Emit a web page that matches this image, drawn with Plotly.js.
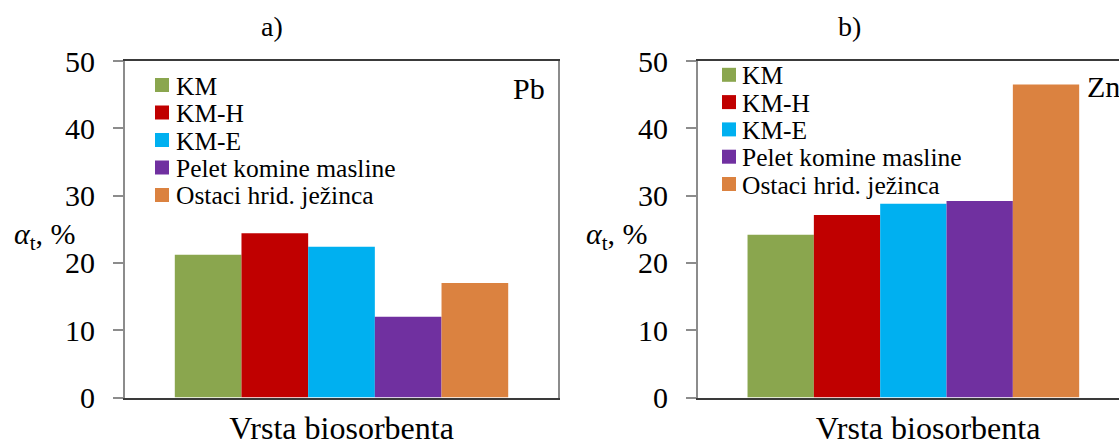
<!DOCTYPE html>
<html>
<head>
<meta charset="utf-8">
<script src="https://cdn.plot.ly/plotly-3.0.1.min.js"></script>
<style>
  html, body { margin: 0; padding: 0; background: #fff; overflow: hidden; }
  #chart { width: 1160px; height: 446px; }
</style>
</head>
<body>
<div id="chart"></div>
<script>
// ---- data ----
const seriesNames = ['KM', 'KM-H', 'KM-E', 'Pelet komine masline', 'Ostaci hrid. ježinca'];
const pbValues = [21.2, 24.4, 22.4, 12.0, 17.0];
const znValues = [24.2, 27.1, 28.8, 29.2, 46.5];
const category = ['Vrsta biosorbenta'];
const yTickValues = [0, 10, 20, 30, 40, 50];
const panelLabels = ['a)', 'b)'];
const metalLabels = ['Pb', 'Zn'];
const xAxisTitle = 'Vrsta biosorbenta';
const yAxisTitle = '<i>α</i><sub>t</sub>, %';

// ---- styles ----
const colors = ['#8AA64E', '#C00000', '#00B0F0', '#7030A0', '#DB8240'];
const W = 1160, H = 446;
const FONT = 'Liberation Serif, Times New Roman, serif';
const px = x => x / W;
const py = y => 1 - y / H;

const traces = [];
seriesNames.forEach((name, i) => {
  traces.push({
    type: 'bar', name: name, x: category, y: [pbValues[i]],
    marker: { color: colors[i], line: { width: 0 } },
    xaxis: 'x', yaxis: 'y', showlegend: false, hoverinfo: 'name+y'
  });
  traces.push({
    type: 'bar', name: name, x: category, y: [znValues[i]],
    marker: { color: colors[i], line: { width: 0 } },
    xaxis: 'x2', yaxis: 'y2', showlegend: false, hoverinfo: 'name+y'
  });
});

function yAxis(anchor) {
  return {
    anchor: anchor, range: [0, 50], tickvals: yTickValues, ticktext: yTickValues.map(String),
    ticks: 'outside', ticklen: 10, tickwidth: 2, tickcolor: '#8C8C8C',
    showline: true, linecolor: '#8C8C8C', linewidth: 2, mirror: true,
    showgrid: false, zeroline: false, fixedrange: true,
    tickfont: { family: FONT, size: 30, color: '#000' }, ticklabelstandoff: 12
  };
}
function xAxis(anchor, range) {
  return {
    anchor: anchor, type: 'category', range: range,
    showticklabels: false, ticks: '', showgrid: false, zeroline: false,
    showline: true, linecolor: '#3A3A3A', linewidth: 2, mirror: true, fixedrange: true,
    title: { text: xAxisTitle, font: { family: FONT, size: 32, color: '#000' }, standoff: 19 }
  };
}

const annotations = [];
const shapes = [];

// panel titles
[[272, panelLabels[0]], [849, panelLabels[1]]].forEach(([x, t]) => {
  annotations.push({ xref: 'paper', yref: 'paper', x: px(x), y: py(27), text: t, showarrow: false,
    xanchor: 'center', yanchor: 'middle', font: { family: FONT, size: 28, color: '#000' } });
});
// y axis titles
[12, 584].forEach(x => {
  annotations.push({ xref: 'paper', yref: 'paper', x: px(x), y: py(236), text: yAxisTitle, showarrow: false,
    xanchor: 'left', yanchor: 'middle', font: { family: FONT, size: 30, color: '#000' } });
});
// metal labels
[[511, 88, metalLabels[0]], [1085, 86, metalLabels[1]]].forEach(([x, y, t]) => {
  annotations.push({ xref: 'paper', yref: 'paper', x: px(x), y: py(y), text: t, showarrow: false,
    xanchor: 'left', yanchor: 'middle', font: { family: FONT, size: 30, color: '#000' } });
});
// manual legends (squares + labels)
const legends = [
  { sx: 155, tx: 175, y0: 85, dy: 27.5 },
  { sx: 722, tx: 741, y0: 74.8, dy: 27.3 }
];
legends.forEach(L => {
  seriesNames.forEach((name, i) => {
    const cy = L.y0 + i * L.dy;
    shapes.push({ type: 'rect', xref: 'paper', yref: 'paper',
      x0: px(L.sx), x1: px(L.sx + 14), y0: py(cy + 7), y1: py(cy - 7),
      fillcolor: colors[i], line: { width: 0 } });
    annotations.push({ xref: 'paper', yref: 'paper', x: px(L.tx), y: py(cy + 1), text: name, showarrow: false,
      xanchor: 'left', yanchor: 'middle', borderpad: 0,
      font: { family: FONT, size: 25.5, color: '#000' } });
  });
});

const layout = {
  width: W, height: H,
  margin: { l: 0, r: 0, t: 0, b: 0 },
  paper_bgcolor: '#fff', plot_bgcolor: '#fff',
  barmode: 'group', bargap: 0.23, bargroupgap: 0,
  showlegend: false,
  xaxis: Object.assign(xAxis('y', [-0.5, 0.5]), { domain: [px(125), px(558)] }),
  yaxis: Object.assign(yAxis('x'), { domain: [py(397.5), py(61)] }),
  xaxis2: Object.assign(xAxis('y2', [-0.5, 0.568]), { domain: [px(698), px(1158)] }),
  yaxis2: Object.assign(yAxis('x2'), { domain: [py(397.5), py(61)] }),
  annotations: annotations,
  shapes: shapes
};

Plotly.newPlot('chart', traces, layout, { displayModeBar: false, staticPlot: true });
</script>
</body>
</html>
